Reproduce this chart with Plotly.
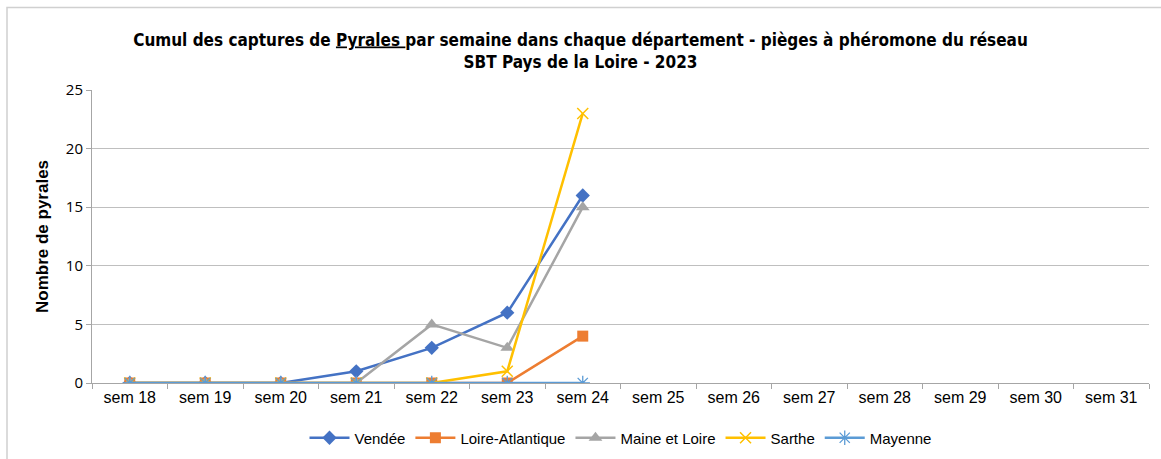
import plotly.graph_objects as go

weeks = ["sem 18", "sem 19", "sem 20", "sem 21", "sem 22", "sem 23", "sem 24",
         "sem 25", "sem 26", "sem 27", "sem 28", "sem 29", "sem 30", "sem 31"]
obs_weeks = weeks[:7]
vendee = [0, 0, 0, 1, 3, 6, 16]
loire_atlantique = [0, 0, 0, 0, 0, 0, 4]
maine_et_loire = [0, 0, 0, 0, 5, 3, 15]
sarthe = [0, 0, 0, 0, 0, 1, 23]
mayenne = [0, 0, 0, 0, 0, 0, 0]

series = [
    ("Vendée", vendee, "#4472C4", "diamond", 11, None),
    ("Loire-Atlantique", loire_atlantique, "#ED7D31", "square", 11, None),
    ("Maine et Loire", maine_et_loire, "#A5A5A5", "triangle-up", 12, None),
    ("Sarthe", sarthe, "#FFC000", "x-thin-open", 11, 1.5),
    ("Mayenne", mayenne, "#5B9BD5", "asterisk-open", 12, 1.3),
]

fig = go.Figure()
for name, vals, color, sym, size, lw in series:
    marker = dict(symbol=sym, size=size, color=color)
    if lw:
        marker["line"] = dict(color=color, width=lw)
    fig.add_trace(go.Scatter(
        x=obs_weeks, y=vals, name=name, mode="lines+markers",
        line=dict(color=color, width=2.5), marker=marker,
    ))

W, H = 1161, 459
L, R, T, B = 92, 12, 90, 76
pw, ph = W - L - R, H - T - B

fig.update_layout(
    width=W, height=H,
    margin=dict(l=L, r=R, t=T, b=B, autoexpand=False),
    paper_bgcolor="white", plot_bgcolor="white",
    title=dict(
        text="<b>Cumul des captures de <u>Pyrales </u>par semaine dans chaque département - pièges à phéromone du réseau<br>SBT Pays de la Loire - 2023</b>",
        x=0.5, xanchor="center", y=1 - 45.5 / H, yanchor="middle",
        font=dict(family="DejaVu Sans Condensed, Liberation Sans Narrow, sans-serif", size=17, color="black"),
    ),
    legend=dict(
        orientation="h", x=0.5, xanchor="center", y=(383 - 438) / ph, yanchor="middle",
        font=dict(family="Liberation Sans Narrow, Liberation Sans, sans-serif", size=15, color="black"),
        itemwidth=40, traceorder="normal",
    ),
    xaxis=dict(
        type="category", categoryorder="array", categoryarray=weeks,
        range=[-0.5, 13.5], tickvals=weeks, ticktext=weeks, automargin=False,
        showgrid=False, showline=True, linecolor="#A6A6A6", linewidth=1,
        ticks="outside", tickson="boundaries", ticklen=5, tickcolor="#A6A6A6",
        tickfont=dict(family="Liberation Sans, Arial, sans-serif", size=16, color="black"),
        zeroline=False,
    ),
    yaxis=dict(
        range=[0, 25], dtick=5, showgrid=True, gridcolor="#BFBFBF", gridwidth=1,
        showline=True, linecolor="#A6A6A6", linewidth=1, automargin=False,
        ticks="outside", ticklen=5, tickcolor="#A6A6A6",
        tickfont=dict(family="Open Sans, sans-serif", size=15, color="black"),
        title=dict(text="<b>Nombre de pyrales</b>", standoff=12,
                   font=dict(family="Liberation Sans, Arial, sans-serif", size=17, color="black")),
        zeroline=False,
    ),
)

fig.add_shape(type="rect", xref="paper", yref="paper",
              x0=(7 - L) / pw, x1=(W + 10 - L) / pw,
              y0=(383 - (H + 10)) / ph, y1=(383 - 7.5) / ph,
              line=dict(color="#D0D0D0", width=1.5), layer="below")

fig.write_html("out.html", config={"displayModeBar": False},
               post_script="document.body.style.margin='0';")
